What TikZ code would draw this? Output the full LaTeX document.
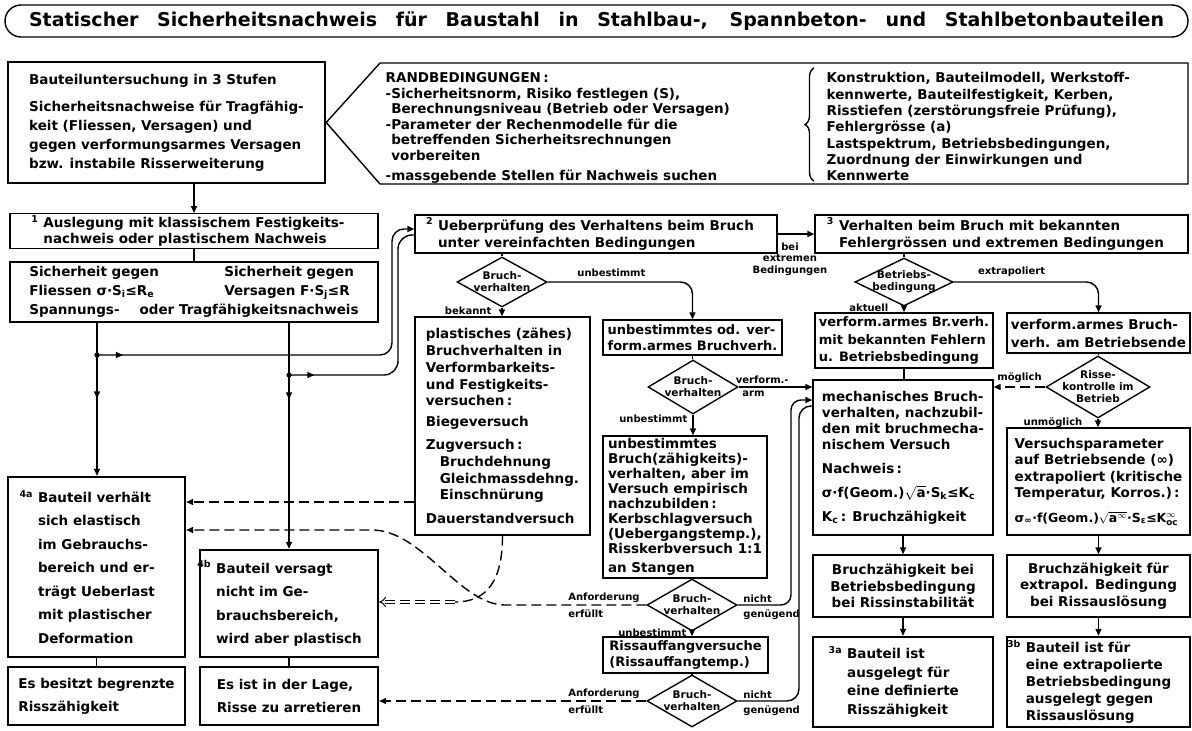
\documentclass[tikz,border=0pt]{standalone}
\usepackage{amsmath}
\usepackage{fontspec}
\setmainfont{DejaVu Sans}
\usetikzlibrary{arrows.meta,shapes.geometric,decorations.pathreplacing,decorations.markings}

\newcommand{\boxfont}[1]{\fontsize{13.5}{#1}\selectfont\bfseries}
\newcommand{\narrowfont}[1]{\fontsize{13}{#1}\selectfont\bfseries}
\newcommand{\tagfont}{\fontsize{10}{11.5}\selectfont\bfseries}
\newcommand{\hang}[1]{\llap{\textsuperscript{#1}\hspace{5pt}}}

\begin{document}
\begin{tikzpicture}[x=1pt, y=-1pt, line width=1.4pt,
  box/.style={draw, line width=1.4pt, inner sep=2pt, align=left, font=\boxfont{16}},
  heavybox/.style={box, line width=2.4pt},
  heading/.style={draw, line width=1.4pt, rounded corners=16pt, inner sep=0pt,
    minimum width=1183pt, minimum height=32pt, font=\fontsize{19}{21}\selectfont\bfseries},
  freetext/.style={inner sep=0pt, align=left, font=\boxfont{#1}},
  query/.style={draw, diamond, line width=1.4pt, inner sep=0pt},
  qtext/.style={font=\fontsize{10.5}{12}\selectfont\bfseries, align=center},
  edgetag/.style={inner sep=0pt, font=\tagfont},
  arr/.style={-{Triangle[length=7pt,width=6pt]}},
  dashline/.style={dash pattern=on 10pt off 5pt},
  dasharr/.style={arr, dashline},
  midarr/.style={postaction={decorate}, decoration={markings,
    mark=at position #1 with {\arrow{Triangle[length=7pt,width=6pt]}}}},
  dbl/.style={double, double distance=2.4pt, line width=1pt, dashline, -{Implies}}
  ]
\path[use as bounding box, fill=white] (0,0) rectangle (1192,731);

\node[heading] (head) at (596.5,21) {\makebox[1135pt][s]{Statischer Sicherheitsnachweis für Baustahl in Stahlbau-, Spannbeton- und Stahlbetonbauteilen}};

\node[heavybox, minimum width=317pt, minimum height=121pt, font=\boxfont{19}] (bA) at (166.5,122.5)
  {Bauteiluntersuchung in 3 Stufen\\[8pt]Sicherheitsnachweise für Tragfähig-\\keit (Fliessen, Versagen) und\\gegen verformungsarmes Versagen\\bzw. instabile Risserweiterung};
\draw (bA.east) -- (380,63) -- (1188,63) -- (1188,184) -- (380,184) -- cycle;
\node[freetext=15.5, anchor=north west] (rb) at (385,72)
  {RANDBEDINGUNGEN\,:\\-Sicherheitsnorm, Risiko festlegen (S),\\\phantom{-}Berechnungsniveau (Betrieb oder Versagen)\\-Parameter der Rechenmodelle für die\\\phantom{-}betreffenden Sicherheitsrechnungen\\\phantom{-}vorbereiten\\[5pt]-massgebende Stellen für Nachweis suchen};
\draw[decorate, decoration={brace, amplitude=9pt}] (814,181) -- (814,68);
\node[freetext=16.3, anchor=north west] (kw) at (826,72)
  {Konstruktion, Bauteilmodell, Werkstoff-\\kennwerte, Bauteilfestigkeit, Kerben,\\Risstiefen (zerstörungsfreie Prüfung),\\Fehlergrösse (a)\\Lastspektrum, Betriebsbedingungen,\\Zuordnung der Einwirkungen und\\Kennwerte};

\node[box, minimum width=368pt, minimum height=34pt, font=\boxfont{15.5}] (b1) at (194,231)
  {\hang{1}Auslegung mit klassischem Festigkeits-\\nachweis oder plastischem Nachweis};
\node[box, minimum width=368pt, minimum height=60pt, font=\boxfont{19}] (b2) at (194,292)
  {\makebox[195pt][l]{Sicherheit gegen}Sicherheit gegen\\
   \makebox[195pt][l]{Fliessen σ·S\textsubscript{i}≤R\textsubscript{e}}Versagen F·S\textsubscript{j}≤R\\
   Spannungs-\hspace{20pt}oder Tragfähigkeitsnachweis};

\node[heavybox, minimum width=177pt, minimum height=180pt, font=\boxfont{23.5}] (n4a) at (96.5,567)
  {\hang{4a}Bauteil verhält\\sich elastisch\\im Gebrauchs-\\bereich und er-\\trägt Ueberlast\\mit plastischer\\Deformation};
\node[heavybox, minimum width=177pt, minimum height=58pt, font=\boxfont{23}] (nEs1) at (96.5,696)
  {Es besitzt begrenzte\\Risszähigkeit};
\node[heavybox, minimum width=178pt, minimum height=107pt, font=\boxfont{23.5}] (n4b) at (289,603.5)
  {\hang{4b}Bauteil versagt\\nicht im Ge-\\brauchsbereich,\\wird aber plastisch};
\node[heavybox, minimum width=178pt, minimum height=58pt, font=\boxfont{23}] (nEs2) at (289,696)
  {Es ist in der Lage,\\Risse zu arretieren};

\node[box, minimum width=362pt, minimum height=38pt, font=\boxfont{17}] (b2u) at (596,234)
  {\hang{2}Ueberprüfung des Verhaltens beim Bruch\\unter vereinfachten Bedingungen};
\node[box, minimum width=373pt, minimum height=38pt, font=\boxfont{17}] (b3) at (1001.5,234)
  {\hang{3}Verhalten beim Bruch mit bekannten\\Fehlergrössen und extremen Bedingungen};

\node[query, minimum width=90pt, minimum height=50pt, label={[qtext]center:Bruch-\\verhalten}] (d1) at (502,282) {};
\node[box, minimum width=175pt, minimum height=218pt, font=\boxfont{16.8}] (pl) at (502.5,426)
  {plastisches (zähes)\\Bruchverhalten in\\Verformbarkeits-\\und Festigkeits-\\versuchen\,:\\[4pt]Biegeversuch\\[6pt]Zugversuch\,:\\\hspace*{14pt}Bruchdehnung\\\hspace*{14pt}Gleichmassdehng.\\\hspace*{14pt}Einschnürung\\[7pt]Dauerstandversuch};
\node[box, minimum width=179pt, minimum height=35pt, font=\narrowfont{16}] (ub) at (692.5,337.5)
  {unbestimmtes od. ver-\\form.armes Bruchverh.};
\node[query, minimum width=90pt, minimum height=54pt, label={[qtext]center:Bruch-\\verhalten}] (dm) at (693,387) {};
\node[box, minimum width=164pt, minimum height=142pt, font=\boxfont{15}] (uz) at (685,507)
  {unbestimmtes\\Bruch(zähigkeits)-\\verhalten, aber im\\Versuch empirisch\\nachzubilden\,:\\Kerbschlagversuch\\(Uebergangstemp.),\\Risskerbversuch 1:1\\[4pt]an Stangen};
\node[query, minimum width=90pt, minimum height=52pt, label={[qtext]center:Bruch-\\verhalten}] (dl1) at (692,605) {};
\node[box, minimum width=165pt, minimum height=36pt, font=\narrowfont{16}] (ra) at (685.5,655)
  {Rissauffangversuche\\(Rissauffangtemp.)};
\node[query, minimum width=90pt, minimum height=52pt, label={[qtext]center:Bruch-\\verhalten}] (dl2) at (692,701) {};

\node[query, minimum width=98pt, minimum height=48pt, label={[qtext]center:Betriebs-\\bedingung}] (d2) at (904,282) {};
\node[box, minimum width=178pt, minimum height=55pt, font=\narrowfont{17.5}] (vb) at (904,340.5)
  {verform.armes Br.verh.\\mit bekannten Fehlern\\u. Betriebsbedingung};
\node[box, minimum width=183pt, minimum height=40pt, font=\boxfont{18}] (vr) at (1098.5,333)
  {verform.armes Bruch-\\verh. am Betriebsende};
\node[box, minimum width=180pt, minimum height=155pt, font=\boxfont{16}] (mb) at (903,457.5)
  {mechanisches Bruch-\\verhalten, nachzubil-\\den mit bruchmecha-\\nischem Versuch\\[8pt]Nachweis\,:\\[8pt]σ·f(Geom.)$\sqrt{\text{a}}$·S\textsubscript{k}≤K\textsubscript{c}\\[8pt]K\textsubscript{c}\,: Bruchzähigkeit};
\node[query, minimum width=104pt, minimum height=62pt, label={[qtext]center:Risse-\\kontrolle im\\Betrieb}] (dR) at (1098,387) {};
\node[box, minimum width=183pt, minimum height=107pt, font=\boxfont{16.5}] (vp) at (1098.5,481.5)
  {Versuchsparameter\\auf Betriebsende (∞)\\extrapoliert (kritische\\Temperatur, Korros.)\,:\\[8pt]{\fontsize{12.5}{16}\selectfont σ\textsubscript{∞}·f(Geom.)$\sqrt{\text{a}^{\infty}}$·S\textsubscript{ε}≤K$^{\infty}_{\text{oc}}$}};
\node[box, minimum width=180pt, minimum height=62pt, align=center, font=\boxfont{16.5}] (bz1) at (903,586)
  {Bruchzähigkeit bei\\Betriebsbedingung\\bei Rissinstabilität};
\node[box, minimum width=183pt, minimum height=62pt, align=center, font=\boxfont{16.5}] (bz2) at (1098.5,586)
  {Bruchzähigkeit für\\extrapol. Bedingung\\bei Rissauslösung};
\node[heavybox, minimum width=180pt, minimum height=90pt, font=\boxfont{18.5}] (n3a) at (903,682)
  {\hang{3a}Bauteil ist\\ausgelegt für\\eine definierte\\Risszähigkeit};
\node[heavybox, minimum width=183pt, minimum height=90pt, font=\boxfont{17}] (n3b) at (1098.5,682)
  {\hang{3b}Bauteil ist für\\eine extrapolierte\\Betriebsbedingung\\ausgelegt gegen\\Rissauslösung};

\draw[arr] (bA.south -| b1.north) -- (b1.north);
\draw (b1.south) -- (b2.north);
\coordinate (j1) at (97,355);
\coordinate (j2) at (289,375);
\draw (b2.south -| j1) -- (j1);
\draw[arr, midarr=0.36] (j1) -- (n4a.north -| j1);
\draw (b2.south -| j2) -- (j2);
\draw[arr, midarr=0.14] (j2) -- (n4b.north -| j2);
\draw[arr, midarr=0.06, rounded corners=12pt] (j1) -- (392,355) -- (392,229) -- ([yshift=5pt]b2u.west);
\draw[midarr=0.1, rounded corners=14pt] (j2) -- (398,375) -- (398,235) -- ([yshift=-1pt]b2u.west);
\fill (j1) circle (2.6pt);
\fill (j2) circle (2.6pt);
\draw (n4a.south) -- (nEs1.north);
\draw (n4b.south) -- (nEs2.north);

\draw (d1.north |- b2u.south) -- (d1.north);
\draw[arr] (d1.south) -- (d1.south |- pl.north);
\node[edgetag, anchor=east] (bk) at ([xshift=-10pt, yshift=-3pt]d1.south) {bekannt};
\draw[arr, rounded corners=12pt] (d1.east) -| (ub.north) node[edgetag, pos=0.22, above=5pt] (ut1) {unbestimmt};
\draw (ub.south) -- (ub.south |- dm.north);
\draw[arr] (dm.east) -- (dm.east -| mb.west) node[edgetag, pos=0.32, above=3pt] (vf) {verform.-} node[edgetag, pos=0.2, below=3pt] (va) {arm};
\draw[arr] (dm.south) -- (dm.south |- uz.north) node[edgetag, pos=0.18, left=5pt] (ut2) {unbestimmt};
\draw (dl1.north |- uz.south) -- (dl1.north);
\draw[arr] (dl1.south) -- (dl1.south |- ra.north) node[edgetag, pos=0.3, left=5pt] (ut3) {unbestimmt};
\draw (dl2.north |- ra.south) -- (dl2.north);

\node[edgetag, anchor=south east] (an1) at ([xshift=-6pt, yshift=2pt]dl1.west) {Anforderung};
\node[edgetag, anchor=north west] (ef1) at ([yshift=-6pt]an1.south west) {erfüllt};
\node[edgetag, anchor=south west] (nc1) at ([xshift=5pt, yshift=2pt]dl1.east) {nicht};
\node[edgetag, anchor=north west] (gn1) at ([yshift=-6pt]nc1.south west) {genügend};
\node[edgetag, anchor=south east] (an2) at ([xshift=-6pt, yshift=2pt]dl2.west) {Anforderung};
\node[edgetag, anchor=north west] (ef2) at ([yshift=-6pt]an2.south west) {erfüllt};
\node[edgetag, anchor=south west] (nc2) at ([xshift=5pt, yshift=2pt]dl2.east) {nicht};
\node[edgetag, anchor=north west] (gn2) at ([yshift=-6pt]nc2.south west) {genügend};

\draw[arr, rounded corners=10pt] (dl1.east) -- (791,605) -- (791,400) -- ([yshift=57.5pt]mb.west);
\draw[rounded corners=12pt] (dl2.east) -- (799,701) -- (799,406) -- ([yshift=51.5pt]mb.west);

\coordinate (q1) at ([yshift=-76pt]pl.west);
\draw[dasharr] (q1) -- (q1 -| n4a.east);
\coordinate (q2) at (505,605);
\coordinate (q3) at (372,530);
\draw[dasharr] (dl1.west) -- (q2) .. controls +(-45,0) and +(50,0) .. (q3) -- (q3 -| n4a.east);
\coordinate (q4) at (455,602);
\draw[dashline] (pl.south) .. controls +(0,45) and +(32,0) .. (q4);
\draw[dbl] (q4) -- (q4 -| n4b.east);
\draw[dasharr] (dl2.west) -- (dl2.west -| nEs2.east);

\draw[arr] (b2u.east) -- (b3.west) node[edgetag, midway, below=8pt, xshift=-6pt, align=center] (bx) {bei\\extremen\\Bedingungen};
\draw (d2.north |- b3.south) -- (d2.north);
\draw[arr] (d2.south) -- (d2.south |- vb.north);
\node[edgetag, anchor=east] (ak) at ([xshift=-15pt, yshift=-1pt]d2.south) {aktuell};
\draw[arr, rounded corners=12pt] (d2.east) -| (vr.north) node[edgetag, pos=0.2, above=5pt] (ex) {extrapoliert};
\draw (vb.south) -- (vb.south |- mb.north);
\draw (vr.south) -- (vr.south |- dR.north);
\draw[dasharr] (dR.west) -- (dR.west -| mb.east) node[edgetag, midway, above=4pt] (mg) {möglich};
\draw[arr] (dR.south) -- (dR.south |- vp.north) node[edgetag, midway, left=15pt] (um) {unmöglich};
\draw[arr] (mb.south) -- (mb.south |- bz1.north);
\draw[arr] (bz1.south) -- (bz1.south |- n3a.north);
\draw[arr] (vp.south) -- (vp.south |- bz2.north);
\draw[arr] (bz2.south) -- (bz2.south |- n3b.north);
\end{tikzpicture}
\end{document}
